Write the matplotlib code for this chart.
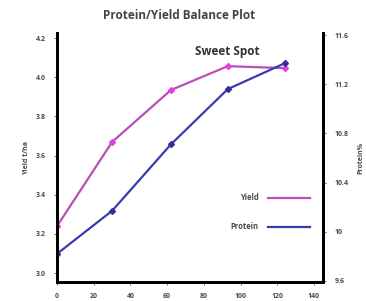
import matplotlib
matplotlib.use("Agg")
import matplotlib.pyplot as plt
from matplotlib.lines import Line2D

plt.rcParams['font.family'] = ['Open Sans', 'DejaVu Sans']

# nitrogen rate (x), yield t/ha (left axis), protein % (right axis)
x = [0, 30, 62, 93, 124]
yield_t = [3.24, 3.67, 3.935, 4.057, 4.047]
protein = [9.82, 10.17, 10.71, 11.16, 11.37]

xticks = [0, 20, 40, 60, 80, 100, 120, 140]
yticks_left = [3.0, 3.2, 3.4, 3.6, 3.8, 4.0, 4.2]
yticks_right = [9.6, 10, 10.4, 10.8, 11.2, 11.6]
right_labels = ['9.6', '10', '10.4', '10.8', '11.2', '11.6']

yc = '#b94db9'
pc = '#3b3bb0'
tc = '#4a4a4a'

fig = plt.figure(figsize=(3.66, 3.01), dpi=100)
ax = fig.add_axes([0.156, 0.063, 0.727, 0.827])
ax2 = ax.twinx()

ax.plot(x, yield_t, color=yc, lw=1.6, marker='D', ms=3, mfc='#e040e0', mec='#e040e0')
ax2.plot(x, protein, color=pc, lw=1.6, marker='D', ms=3, mfc='#30309a', mec='#30309a')

ax.set_xlim(0, 145)
ax.set_ylim(2.954, 4.226)
ax2.set_ylim(9.59, 11.616)

ax.set_xticks(xticks)
ax.set_yticks(yticks_left)
ax.set_yticklabels(['%.1f' % v for v in yticks_left])
ax2.set_yticks(yticks_right)
ax2.set_yticklabels(right_labels)

for a in (ax, ax2):
    a.spines['top'].set_visible(False)
    for s in ('left', 'bottom', 'right'):
        a.spines[s].set_linewidth(2)
    a.tick_params(labelsize=5, colors=tc, length=2, width=0.6, pad=6)
    for lab in a.get_xticklabels() + a.get_yticklabels():
        lab.set_fontweight('bold')

ax.set_ylabel('Yield t/ha', fontsize=5, color=tc, labelpad=4, fontweight='bold')
ax2.set_ylabel('Protein%', fontsize=5, color=tc, rotation=90, labelpad=6.5, fontweight='bold')

fig.text(0.49, 0.948, 'Protein/Yield Balance Plot', ha='center', va='center',
         fontsize=8.5, fontweight='bold', color='#444444')
ax.text(93, 4.13, 'Sweet Spot', ha='center', va='center', fontsize=8.5,
        fontweight='bold', color='#333333')

handles = [Line2D([], [], color=yc, lw=1.6), Line2D([], [], color=pc, lw=1.6)]
leg = ax.legend(handles, ['Yield', 'Protein'], loc='center right', bbox_to_anchor=(0.975, 0.28),
                frameon=False, markerfirst=False, handlelength=5.5, handletextpad=1.2,
                labelspacing=2.6, prop={'size': 5.5, 'weight': 'bold'}, labelcolor=tc)

fig.savefig('out.png', dpi=100)
